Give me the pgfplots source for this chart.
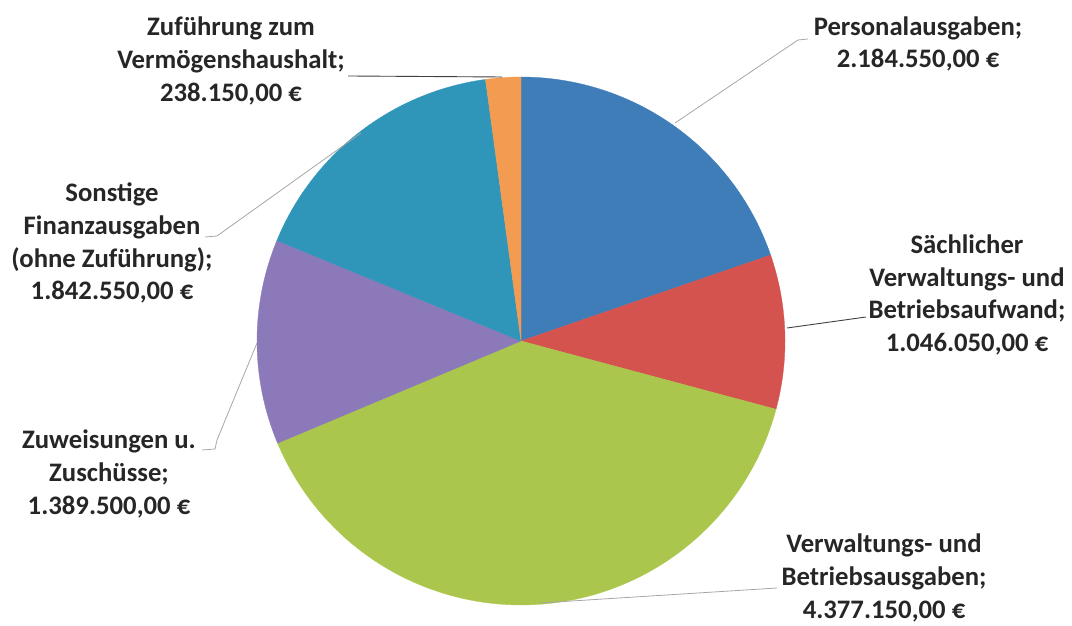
\documentclass[border=0pt]{standalone}
\usepackage{pgfplots}
\pgfplotsset{compat=1.18}
\usepackage{pgfplotstable}
\usepackage{fontspec}
\setmainfont{Carlito}

\definecolor{cPers}{HTML}{3F7DB9}
\definecolor{cSach}{HTML}{D5534F}
\definecolor{cVerw}{HTML}{AAC64C}
\definecolor{cZuw}{HTML}{8B79BA}
\definecolor{cSonst}{HTML}{2F96BA}
\definecolor{cZuf}{HTML}{F39B50}
\definecolor{cText}{HTML}{262626}
\definecolor{cLeadL}{HTML}{A6A6A6}
\definecolor{cLeadD}{HTML}{404040}

% Ausgaben in Euro, in Uhrzeigerrichtung ab 12 Uhr
\pgfplotstableread{
id value
1 2184550
2 1046050
3 4377150
4 1389500
5 1842550
6 238150
}\ausgaben

% Mittelpunkt und Radius des Kreises (Achsenkoordinaten)
\def\cx{521}
\def\cy{285}
\def\rad{264}

\newcommand\slice[3]{%
  \addplot[fill=#1, draw=#1, line width=0.3pt, domain=#3:#2, samples=90, variable=\t]
    ({\cx+\rad*cos(\t)}, {\cy+\rad*sin(\t)}) -- (axis cs:\cx,\cy) -- cycle;
}

\begin{document}
\begin{tikzpicture}
\pgfplotstablegetelem{0}{value}\of\ausgaben \edef\vA{\pgfplotsretval}
\pgfplotstablegetelem{1}{value}\of\ausgaben \edef\vB{\pgfplotsretval}
\pgfplotstablegetelem{2}{value}\of\ausgaben \edef\vC{\pgfplotsretval}
\pgfplotstablegetelem{3}{value}\of\ausgaben \edef\vD{\pgfplotsretval}
\pgfplotstablegetelem{4}{value}\of\ausgaben \edef\vE{\pgfplotsretval}
\pgfplotstablegetelem{5}{value}\of\ausgaben \edef\vF{\pgfplotsretval}
\edef\total{\fpeval{\vA+\vB+\vC+\vD+\vE+\vF}}
\edef\aA{90}
\edef\aB{\fpeval{\aA-360*\vA/\total}}
\edef\aC{\fpeval{\aB-360*\vB/\total}}
\edef\aD{\fpeval{\aC-360*\vC/\total}}
\edef\aE{\fpeval{\aD-360*\vD/\total}}
\edef\aF{\fpeval{\aE-360*\vE/\total}}
\edef\aG{\fpeval{\aF-360*\vF/\total}}
\begin{axis}[
  scale only axis,
  width=1072bp, height=626bp,
  xmin=0, xmax=1072, ymin=0, ymax=626,
  hide axis, clip=false,
]
\slice{cPers}{\aA}{\aB}
\slice{cSach}{\aB}{\aC}
\slice{cVerw}{\aC}{\aD}
\slice{cZuw}{\aD}{\aE}
\slice{cSonst}{\aE}{\aF}
\slice{cZuf}{\aF}{\aG}

% Führungslinien
\addplot[cLeadL, line width=0.8pt] coordinates {(808,587) (798,586) (675,503)};
\addplot[cLeadD, line width=0.9pt] coordinates {(866,309) (787,298)};
\addplot[cLeadL, line width=0.8pt] coordinates {(777,38) (540,23)};
\addplot[cLeadL, line width=0.8pt] coordinates {(202,176) (215,177) (217,186) (257,283)};
\addplot[cLeadL, line width=0.8pt] coordinates {(205,389) (217,390) (361,493)};
\addplot[cLeadD, line width=0.9pt] coordinates {(348,550) (502,549)};

% Beschriftungen
\begin{scope}[every node/.style={align=center, text=cText,
    font=\fontsize{26.8}{33}\selectfont\bfseries}]
\node at (axis cs:231,565) {Zuführung zum\\Vermögenshaushalt;\\238.150,00 €};
\node at (axis cs:918,582) {Personalausgaben;\\2.184.550,00 €};
\node at (axis cs:967,331) {Sächlicher\\Verwaltungs- und\\Betriebsaufwand;\\1.046.050,00 €};
\node at (axis cs:112,383) {Sonstige\\Finanzausgaben\\(ohne Zuführung);\\1.842.550,00 €};
\node at (axis cs:109,152) {Zuweisungen u.\\Zuschüsse;\\1.389.500,00 €};
\node at (axis cs:884,48) {Verwaltungs- und\\Betriebsausgaben;\\4.377.150,00 €};
\end{scope}
\end{axis}
\pgfresetboundingbox
\path (0,0) rectangle (1072bp,626bp);
\end{tikzpicture}
\end{document}
